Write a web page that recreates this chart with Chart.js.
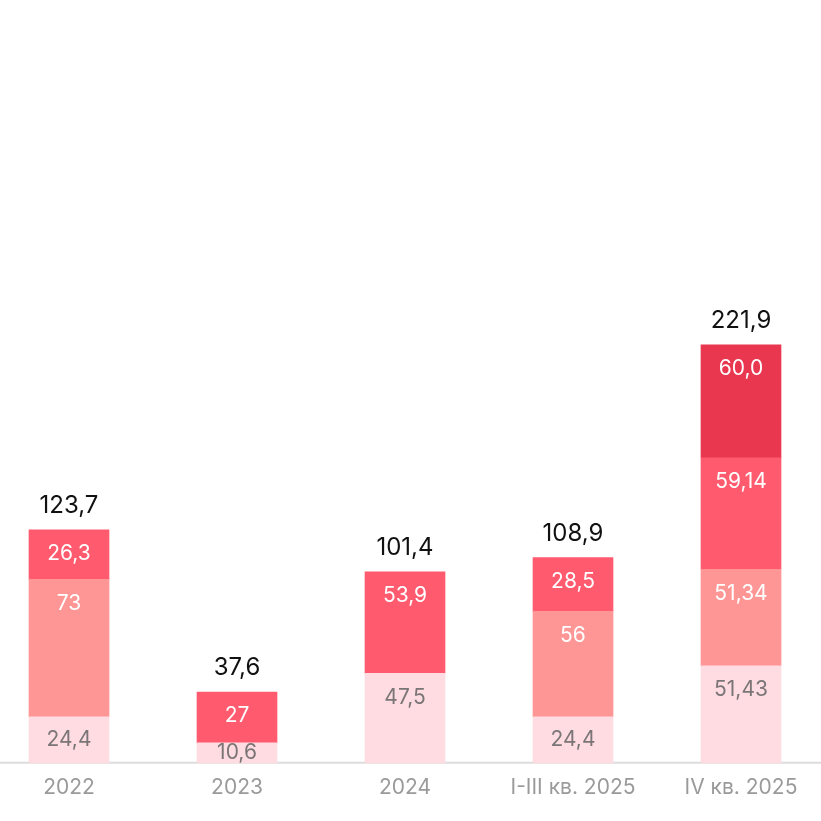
<!DOCTYPE html>
<html>
<head>
<meta charset="utf-8">
<script src="https://cdn.jsdelivr.net/npm/chart.js@4"></script>
<style>
  html, body { margin: 0; padding: 0; background: #fff; }
  canvas { display: block; }
</style>
</head>
<body>
<canvas id="c" width="821" height="821"></canvas>
<script>
// stacked bars, labels drawn by a small plugin
const LABELS = ['2022', '2023', '2024', 'I-III кв. 2025', 'IV кв. 2025'];
const BASE   = [24.4, 10.6, 47.5, 24.4, 51.43];
const MID    = [73, null, null, 56, 51.34];
const UPPER  = [26.3, 27, 53.9, 28.5, 59.14];
const TOP    = [null, null, null, null, 60.0];
const TOTALS = [123.7, 37.6, 101.4, 108.9, 221.9];
// how each value is printed (as in the source)
const BASE_TXT  = ['24,4', '10,6', '47,5', '24,4', '51,43'];
const MID_TXT   = ['73', '', '', '56', '51,34'];
const UPPER_TXT = ['26,3', '27', '53,9', '28,5', '59,14'];
const TOP_TXT   = ['', '', '', '', '60,0'];
const TOTAL_TXT = ['123,7', '37,6', '101,4', '108,9', '221,9'];

const COLORS = ['#ffdce1', '#ff9696', '#ff5a6e', '#e8374f'];
const FONT = 'Inter, "Noto Sans", sans-serif';

const labelPlugin = {
  id: 'segLabels',
  afterDatasetsDraw(chart) {
    const ctx = chart.ctx;
    ctx.save();
    ctx.textAlign = 'center';
    ctx.textBaseline = 'middle';
    ctx.font = `21px ${FONT}`;
    chart.data.datasets.forEach((ds, di) => {
      const meta = chart.getDatasetMeta(di);
      meta.data.forEach((bar, i) => {
        const t = ds.texts[i];
        if (!t) return;
        ctx.fillStyle = di === 0 ? '#7a7577' : '#ffffff';
        // short segments: keep the label inside
        const top = Math.min(bar.y, bar.base), h = Math.abs(bar.base - bar.y);
        ctx.fillText(t, bar.x, top + Math.min(24, h / 2));
      });
    });
    // totals above the stack
    ctx.font = `24px ${FONT}`;
    const yScale = chart.scales.y;
    chart.getDatasetMeta(0).data.forEach((bar, i) => {
      ctx.fillStyle = '#111';
      ctx.fillText(TOTAL_TXT[i], bar.x, yScale.getPixelForValue(TOTALS[i]) - 24);
    });
    ctx.restore();
  },
  // baseline runs the full width of the picture
  beforeDatasetsDraw(chart) {
    const ctx = chart.ctx, y = chart.chartArea.bottom;
    ctx.save();
    ctx.strokeStyle = '#dcdcdc';
    ctx.lineWidth = 2;
    ctx.beginPath();
    ctx.moveTo(0, y);
    ctx.lineTo(chart.width, y);
    ctx.stroke();
    ctx.restore();
  }
};

new Chart(document.getElementById('c').getContext('2d'), {
  type: 'bar',
  data: {
    labels: LABELS,
    datasets: [
      { data: BASE,  texts: BASE_TXT,  backgroundColor: COLORS[0] },
      { data: MID,   texts: MID_TXT,   backgroundColor: COLORS[1] },
      { data: UPPER, texts: UPPER_TXT, backgroundColor: COLORS[2] },
      { data: TOP,   texts: TOP_TXT,   backgroundColor: COLORS[3] },
    ]
  },
  options: {
    responsive: false,
    animation: false,
    devicePixelRatio: 1,
    layout: { padding: { left: 69, right: 80, top: 0, bottom: 17 } },
    plugins: { legend: { display: false }, tooltip: { enabled: false } },
    datasets: { bar: { barThickness: 80, borderWidth: 0, clip: false } },
    scales: {
      x: {
        stacked: true,
        offset: false,
        grid: { display: false },
        border: { display: false },
        ticks: { color: '#9a9a9a', font: { size: 21, family: FONT }, padding: 4, maxRotation: 0 }
      },
      y: { stacked: true, display: false, min: 0, max: 405 }
    }
  },
  plugins: [labelPlugin]
});
</script>
</body>
</html>
